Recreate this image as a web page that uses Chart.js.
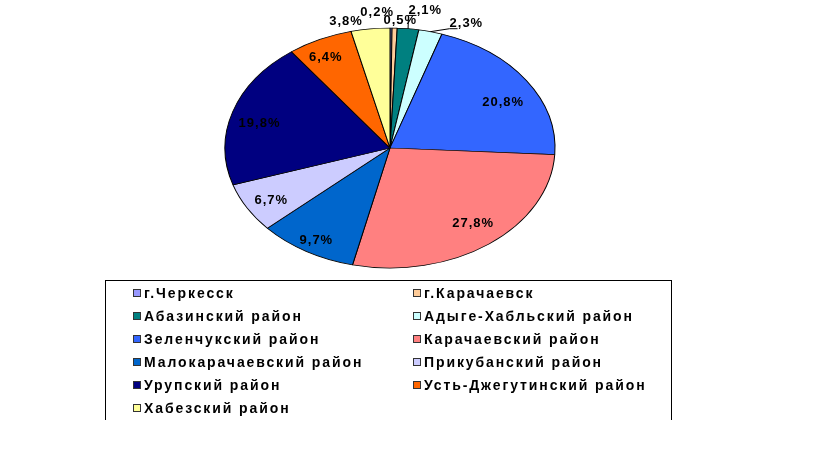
<!DOCTYPE html>
<html>
<head>
<meta charset="utf-8">
<script src="https://cdn.jsdelivr.net/npm/chart.js@4/dist/chart.umd.min.js"></script>
<style>
  body { margin: 0; background: #fff; }
  #wrap { position: relative; width: 816px; height: 460px; }
  #pie { position: absolute; left: 0; top: 0; }
  #legend {
    position: absolute; left: 105px; top: 280px; width: 567px; height: 140px;
    border: 1px solid #000; border-bottom: none; box-sizing: border-box;
    font: bold 14px "Liberation Sans", Arial, sans-serif; letter-spacing: 1.9px; color: #000;
  }
  .item { position: absolute; display: flex; align-items: center; white-space: nowrap; height: 16px; }
  .sw { width: 6px; height: 6px; border: 1px solid #333; margin-right: 3px; flex: none; }
</style>
</head>
<body>
<div id="wrap">
  <canvas id="pie" width="816" height="460"></canvas>
  <div id="legend"></div>
</div>
<script>
// Chart data
const districts = [
  'г.Черкесск', 'г.Карачаевск', 'Абазинский район', 'Адыге-Хабльский район',
  'Зеленчукский район', 'Карачаевский район', 'Малокарачаевский район',
  'Прикубанский район', 'Урупский район', 'Усть-Джегутинский район', 'Хабезский район'
];
const shares = [0.2, 0.5, 2.1, 2.3, 20.8, 27.8, 9.7, 6.7, 19.8, 6.4, 3.8];
const colors = [
  '#9999FF', '#FFCC99', '#008080', '#CCFFFF', '#3366FF', '#FF8080',
  '#0066CC', '#CCCCFF', '#000080', '#FF6600', '#FFFF99'
];

// ellipse geometry of the tilted pie
const CX = 390, CY = 148, RX = 165, RY = 120;

// small slices get their labels outside
const outside = [0, 1, 2, 3, 10];
// label nudges in px, as Excel placed them
const labelNudge = {
  0: [-14, -1], 1: [5, 7], 2: [15, -4], 3: [31, 6], 4: [0, 10], 5: [1, -4],
  6: [-4, 7], 7: [0, 3], 8: [0, 6], 9: [-6, 0], 10: [-22, 7]
};
const leaders = [2, 3];

function fmt(v) {
  return v.toFixed(1).replace('.', ',') + '%';
}

function ellipsePoint(angle, r) {
  return [CX + RX * r * Math.cos(angle), CY + RY * r * Math.sin(angle)];
}

const ellipsePlugin = {
  id: 'ellipse',
  beforeDatasetsDraw(chart) {
    const arc = chart.getDatasetMeta(0).data[0];
    const ctx = chart.ctx;
    ctx.save();
    ctx.translate(CX, CY);
    ctx.scale(RX / arc.outerRadius, RY / arc.outerRadius);
    ctx.translate(-arc.x, -arc.y);
  },
  afterDatasetsDraw(chart) {
    const ctx = chart.ctx;
    ctx.restore();

    ctx.save();
    ctx.font = 'bold 13px "Liberation Sans", Arial, sans-serif';
    ctx.letterSpacing = '1px';
    ctx.fillStyle = '#000';
    ctx.strokeStyle = '#000';
    ctx.lineWidth = 1;
    ctx.textAlign = 'center';
    ctx.textBaseline = 'middle';

    chart.getDatasetMeta(0).data.forEach((arc, i) => {
      const mid = (arc.startAngle + arc.endAngle) / 2;
      const text = fmt(shares[i]);
      let [x, y] = ellipsePoint(mid, outside.includes(i) ? 1.12 : 0.83);
      const nudge = labelNudge[i] || [0, 0];
      x += nudge[0];
      y += nudge[1];
      if (leaders.includes(i)) {
        const [ex, ey] = ellipsePoint(mid, 1);
        const left = x - ctx.measureText(text).width / 2;
        ctx.beginPath();
        ctx.moveTo(ex, ey);
        ctx.lineTo(Math.max(ex, left), y + 5);
        if (left > ex) ctx.lineTo(left + 8, y + 5);
        ctx.stroke();
      }
      ctx.fillText(text, x, y);
    });
    ctx.restore();
  }
};

new Chart(document.getElementById('pie'), {
  type: 'pie',
  data: {
    labels: districts,
    datasets: [{
      data: shares,
      backgroundColor: colors,
      borderColor: '#000',
      borderWidth: 1
    }]
  },
  options: {
    responsive: false,
    animation: false,
    layout: { padding: { top: 65, bottom: 65 } },
    plugins: { legend: { display: false }, tooltip: { enabled: false } }
  },
  plugins: [ellipsePlugin]
});

// legend in two columns
const legend = document.getElementById('legend');
legend.innerHTML = districts.map((name, i) => {
  const col = i % 2, row = Math.floor(i / 2);
  return `<div class="item" style="left:${col ? 307 : 27}px;top:${4 + row * 23}px">
    <span class="sw" style="background:${colors[i]}"></span>${name}</div>`;
}).join('');
</script>
</body>
</html>
